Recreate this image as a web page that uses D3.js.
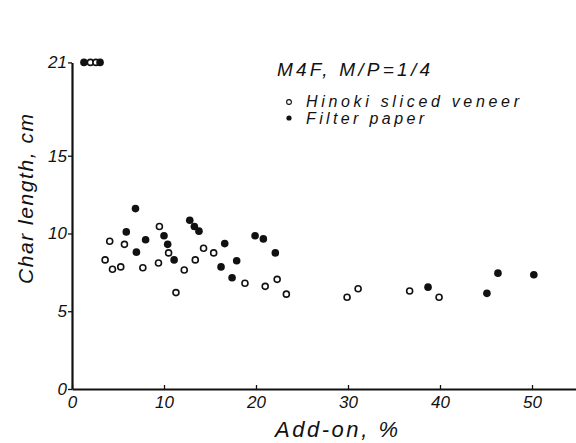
<!DOCTYPE html>
<html lang="en">
<head>
<meta charset="UTF-8">
<script src="https://d3js.org/d3.v7.min.js"></script>
<style>
  body { margin: 0; background: #fff; }
  text { font-family: "Liberation Sans", "DejaVu Sans", sans-serif; font-style: italic; fill: #111; }
</style>
</head>
<body>
<div id="chart"></div>
<script>
// Hinoki sliced veneer (open circles)
var hinokiX = [2.0, 2.6, 3.6, 4.1, 4.4, 5.3, 5.7, 7.7, 9.4, 9.5, 10.5, 11.3, 12.2, 13.4, 14.3, 15.4, 18.8, 21.0, 22.3, 23.3, 29.9, 31.1, 36.7, 39.9];
var hinokiY = [21, 21, 8.3, 9.5, 7.7, 7.85, 9.3, 7.8, 8.1, 10.45, 8.75, 6.2, 7.65, 8.3, 9.05, 8.75, 6.8, 6.6, 7.05, 6.1, 5.9, 6.45, 6.3, 5.9];

// Filter paper (filled circles)
var filterX = [1.3, 3.05, 5.9, 6.9, 7.0, 8.0, 10.0, 10.4, 11.1, 12.8, 13.3, 13.8, 16.2, 16.6, 17.4, 17.9, 19.9, 20.8, 22.1, 38.7, 45.1, 46.3, 50.2];
var filterY = [21, 21, 10.1, 11.6, 8.8, 9.6, 9.85, 9.3, 8.3, 10.85, 10.45, 10.15, 7.85, 9.35, 7.15, 8.25, 9.85, 9.65, 8.75, 6.55, 6.15, 7.45, 7.35];

var xTicks = [0, 10, 20, 30, 40, 50];
var yTicks = [0, 5, 10, 15, 21];
var yTickLabels = ["0", "5", "10", "15", "21"];

var width = 576, height = 443;

var svg = d3.select("#chart").append("svg")
  .attr("width", width)
  .attr("height", height);

var x = d3.scaleLinear().domain([0, 55]).range([72, 578]);
var y = d3.scaleLinear().domain([0, 21]).range([389, 62.4]);

// x axis
var xAxis = svg.append("g")
  .attr("transform", "translate(0," + y(0) + ")")
  .call(d3.axisBottom(x).tickValues(xTicks).tickSize(-4).tickPadding(7).tickSizeOuter(0));
xAxis.select(".domain").attr("stroke", "#111").attr("stroke-width", 2.2);
xAxis.selectAll(".tick line").attr("stroke", "#111").attr("stroke-width", 1.3);
xAxis.selectAll(".tick text").attr("font-size", 17).attr("fill", "#111")
  .attr("font-family", "Liberation Sans").attr("font-style", "italic");

// y axis
var yAxis = svg.append("g")
  .attr("transform", "translate(" + x(0) + ",0)")
  .call(d3.axisLeft(y).tickValues(yTicks).tickFormat(function (d, i) { return yTickLabels[i]; })
    .tickSize(4).tickPadding(1).tickSizeOuter(0));
yAxis.select(".domain").attr("stroke", "#111").attr("stroke-width", 2.2);
yAxis.selectAll(".tick line").attr("stroke", "#111").attr("stroke-width", 1.3);
yAxis.selectAll(".tick text").attr("font-size", 17).attr("fill", "#111")
  .attr("font-family", "Liberation Sans").attr("font-style", "italic");

// axis titles
svg.append("text")
  .attr("x", 275).attr("y", 437)
  .attr("font-size", 22)
  .attr("textLength", 123).attr("lengthAdjust", "spacing")
  .text("Add-on,  %");

svg.append("text")
  .attr("transform", "translate(33,284) rotate(-90)")
  .attr("font-size", 21)
  .attr("textLength", 170).attr("lengthAdjust", "spacing")
  .text("Char  length,  cm");

// points
svg.append("g").selectAll("circle")
  .data(hinokiX.map(function (d, i) { return [d, hinokiY[i]]; }))
  .join("circle")
  .attr("cx", function (d) { return x(d[0]); })
  .attr("cy", function (d) { return y(d[1]); })
  .attr("r", 3)
  .attr("fill", "#fff")
  .attr("stroke", "#111")
  .attr("stroke-width", 1.6);

svg.append("g").selectAll("circle")
  .data(filterX.map(function (d, i) { return [d, filterY[i]]; }))
  .join("circle")
  .attr("cx", function (d) { return x(d[0]); })
  .attr("cy", function (d) { return y(d[1]); })
  .attr("r", 3.8)
  .attr("fill", "#111");

// legend
svg.append("text")
  .attr("x", 277).attr("y", 76)
  .attr("font-size", 19)
  .attr("textLength", 153).attr("lengthAdjust", "spacing")
  .text("M4F,  M/P=1/4");

svg.append("circle").attr("cx", 289).attr("cy", 102).attr("r", 2.4)
  .attr("fill", "#fff").attr("stroke", "#111").attr("stroke-width", 1.1);
svg.append("text")
  .attr("x", 306).attr("y", 107)
  .attr("font-size", 16)
  .attr("textLength", 213).attr("lengthAdjust", "spacing")
  .text("Hinoki sliced veneer");

svg.append("circle").attr("cx", 289).attr("cy", 118).attr("r", 2.6)
  .attr("fill", "#111");
svg.append("text")
  .attr("x", 306).attr("y", 124)
  .attr("font-size", 16)
  .attr("textLength", 118).attr("lengthAdjust", "spacing")
  .text("Filter paper");
</script>
</body>
</html>
